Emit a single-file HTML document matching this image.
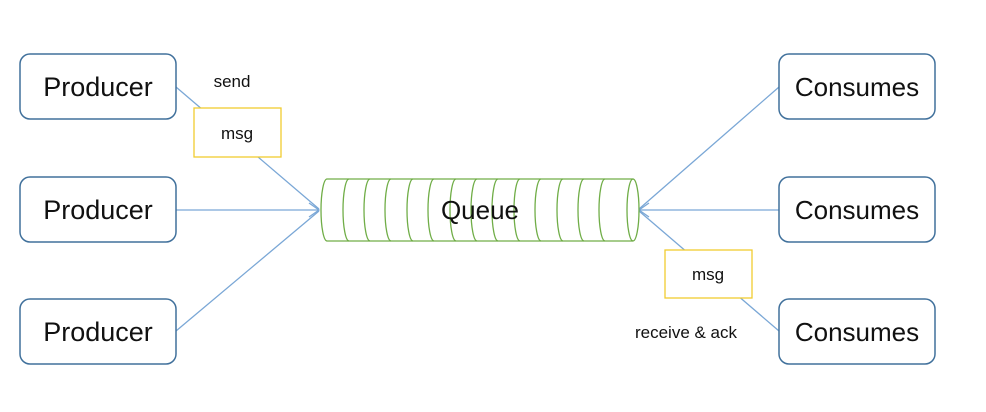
<!DOCTYPE html>
<html><head><style>body{margin:0;background:#fff}</style></head><body>
<svg width="986" height="407" viewBox="0 0 986 407" xmlns="http://www.w3.org/2000/svg" font-family="Liberation Sans, sans-serif">
<g stroke="#7aa7d6" stroke-width="1.3" fill="none">
<line x1="176" y1="87" x2="319" y2="209"/>
<line x1="176" y1="210" x2="319" y2="210"/>
<line x1="176" y1="331" x2="319" y2="211"/>
<line x1="779" y1="87" x2="639" y2="209"/>
<line x1="779" y1="210" x2="639" y2="210"/>
<line x1="779" y1="331" x2="639" y2="211"/>
<polyline points="309,203 319,210 309,217"/>
<polyline points="649,203 639,210 649,217"/>
</g>
<g fill="#fff" stroke="#41719c" stroke-width="1.5">
<rect x="20" y="54" width="156" height="65" rx="10"/>
<rect x="20" y="177" width="156" height="65" rx="10"/>
<rect x="20" y="299" width="156" height="65" rx="10"/>
<rect x="779" y="54" width="156" height="65" rx="10"/>
<rect x="779" y="177" width="156" height="65" rx="10"/>
<rect x="779" y="299" width="156" height="65" rx="10"/>
</g>
<g font-size="26" fill="#111" text-anchor="middle">
<text x="98" y="96" font-size="27">Producer</text>
<text x="98" y="219" font-size="27">Producer</text>
<text x="98" y="341" font-size="27">Producer</text>
<text x="857" y="96">Consumes</text>
<text x="857" y="219">Consumes</text>
<text x="857" y="341">Consumes</text>
</g>
<g fill="#fff" stroke="#f0cc30" stroke-width="1.3">
<rect x="194" y="108" width="87" height="49"/>
<rect x="665" y="250" width="87" height="48"/>
</g>
<g font-size="17" fill="#111" text-anchor="middle">
<text x="237" y="139">msg</text>
<text x="708" y="280">msg</text>
<text x="232" y="87">send</text>
<text x="686" y="338">receive &amp; ack</text>
</g>
<g stroke="#70ad47" stroke-width="1.3" fill="#fff">
<path d="M327,179 L633,179 A6,31 0 0 1 633,241 L327,241 A6,31 0 0 1 327,179 Z"/>
<g fill="none">
<path d="M349,179 A6,31 0 0 0 349,241"/>
<path d="M370,179 A6,31 0 0 0 370,241"/>
<path d="M391,179 A6,31 0 0 0 391,241"/>
<path d="M413,179 A6,31 0 0 0 413,241"/>
<path d="M434,179 A6,31 0 0 0 434,241"/>
<path d="M456,179 A6,31 0 0 0 456,241"/>
<path d="M477,179 A6,31 0 0 0 477,241"/>
<path d="M498,179 A6,31 0 0 0 498,241"/>
<path d="M520,179 A6,31 0 0 0 520,241"/>
<path d="M541,179 A6,31 0 0 0 541,241"/>
<path d="M563,179 A6,31 0 0 0 563,241"/>
<path d="M584,179 A6,31 0 0 0 584,241"/>
<path d="M605,179 A6,31 0 0 0 605,241"/>
<path d="M633,179 A6,31 0 0 0 633,241"/>
</g>
</g>
<text x="480" y="219" font-size="26" fill="#111" text-anchor="middle">Queue</text>
</svg>
</body></html>
